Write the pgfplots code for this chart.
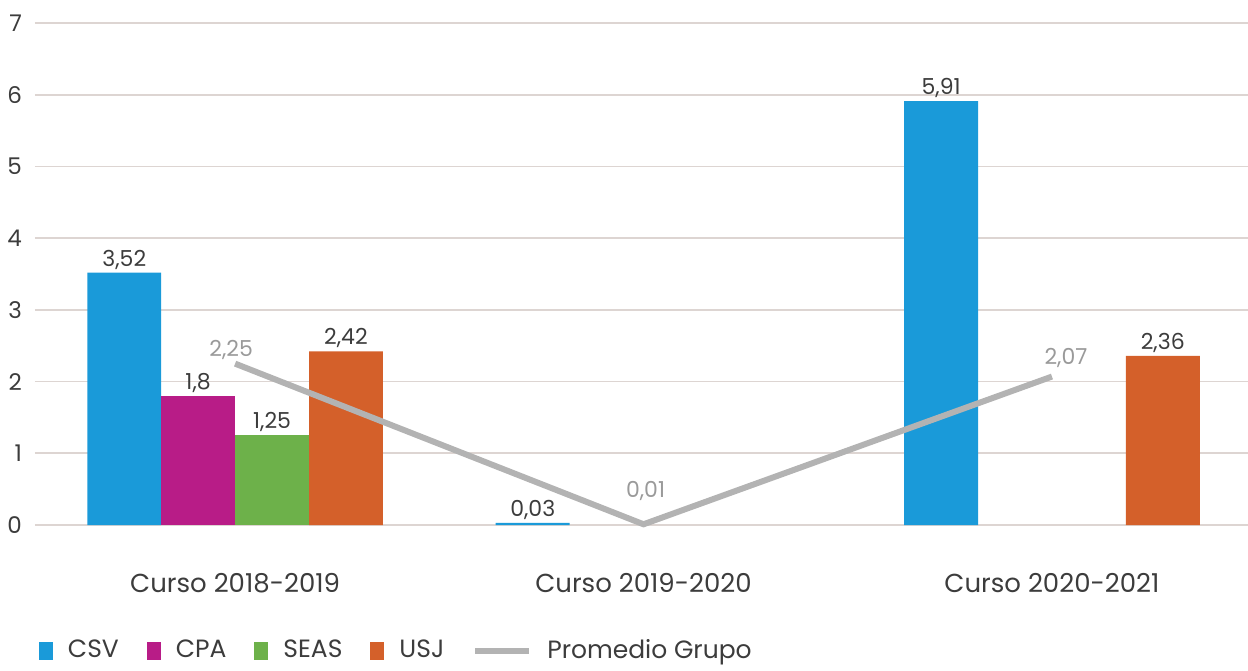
\documentclass[border=0pt]{standalone}
\usepackage{fontspec}
\setmainfont{Poppins}
\usepackage{pgfplots}
\pgfplotsset{compat=1.18}
\definecolor{csv}{HTML}{1A9AD9}
\definecolor{cpa}{HTML}{B81C87}
\definecolor{seas}{HTML}{6DB14A}
\definecolor{usj}{HTML}{D4602A}
\definecolor{lineg}{HTML}{B3B3B3}
\definecolor{lblg}{HTML}{9A9A9A}
\definecolor{gridc}{HTML}{DDD5D2}
\definecolor{txt}{HTML}{3C3C3C}
\begin{document}
\begin{tikzpicture}
\useasboundingbox (0,0) rectangle (624pt,335pt);
\begin{axis}[
  at={(17.5pt,72.5pt)}, anchor=south west,
  scale only axis, width=606.5pt, height=251pt,
  xmin=-0.49, xmax=2.48, ymin=0, ymax=7,
  ytick={0,1,2,3,4,5,6,7},
  xtick={0,1,2},
  xticklabels={Curso 2018-2019, Curso 2019-2020, Curso 2020-2021},
  ymajorgrids, grid style={draw=gridc, line width=0.9pt},
  axis line style={draw=none}, major tick length=0pt,
  clip=false,
  /pgf/number format/use comma,
  /pgf/number format/fixed,
  /pgf/number format/precision=2,
  /pgf/number format/assume math mode=true,
  yticklabel style={font=\fontsize{11.5}{13}\selectfont, text=txt, xshift=-3pt},
  xticklabel style={font=\fontsize{13}{15}\selectfont, text=txt, yshift=-20.5pt},
  every node near coord/.append style={font=\fontsize{11}{13}\selectfont, text=txt, inner sep=1.5pt, anchor=south},
  legend style={draw=none, fill=none, at={(-0.002,-0.25)}, anchor=west,
    font=\fontsize{12.5}{14}\selectfont, text=txt,
    legend columns=5,
    /tikz/every odd column/.append style={column sep=5.5pt},
    /tikz/every even column/.append style={column sep=12pt}},
]
\addplot[ybar, bar width=0.181, bar shift=-0.2715, fill=csv, draw=none,
  nodes near coords, point meta=y,
  every node near coord/.append style={xshift=-55.4pt},
  legend image code/.code={\fill[csv] (0pt,-4.5pt) rectangle (7pt,4.5pt);}]
  coordinates {(0,3.52) (1,0.03) (2,5.91)};
\addlegendentry{CSV}
\addplot[ybar, bar width=0.181, bar shift=-0.0905, fill=cpa, draw=none,
  nodes near coords, point meta=y,
  every node near coord/.append style={xshift=-18.5pt},
  legend image code/.code={\fill[cpa] (0pt,-4.5pt) rectangle (7pt,4.5pt);}]
  coordinates {(0,1.8)};
\addlegendentry{CPA}
\addplot[ybar, bar width=0.181, bar shift=0.0905, fill=seas, draw=none,
  nodes near coords, point meta=y,
  every node near coord/.append style={xshift=18.5pt},
  legend image code/.code={\fill[seas] (0pt,-4.5pt) rectangle (7pt,4.5pt);}]
  coordinates {(0,1.25)};
\addlegendentry{SEAS}
\addplot[ybar, bar width=0.181, bar shift=0.2715, fill=usj, draw=none,
  nodes near coords, point meta=y,
  every node near coord/.append style={xshift=55.4pt},
  legend image code/.code={\fill[usj] (0pt,-4.5pt) rectangle (7pt,4.5pt);}]
  coordinates {(0,2.42) (2,2.36)};
\addlegendentry{USJ}
\addplot[lineg, line width=3pt, no markers, sharp plot,
  nodes near coords, point meta=y,
  visualization depends on={\thisrow{dx} \as \dx},
  visualization depends on={\thisrow{dy} \as \dy},
  every node near coord/.append style={anchor=center, xshift=\dx pt, yshift=\dy pt, text=lblg},
  legend image code/.code={\draw[lineg, line width=3pt] (0pt,0pt) -- (27pt,0pt);}]
  table[x=x, y=y] {
x y dx dy
0 2.25 -2 7
1 0.01 1 16.5
2 2.07 7 9.5
};
\addlegendentry{Promedio Grupo}
\end{axis}
\end{tikzpicture}
\end{document}
